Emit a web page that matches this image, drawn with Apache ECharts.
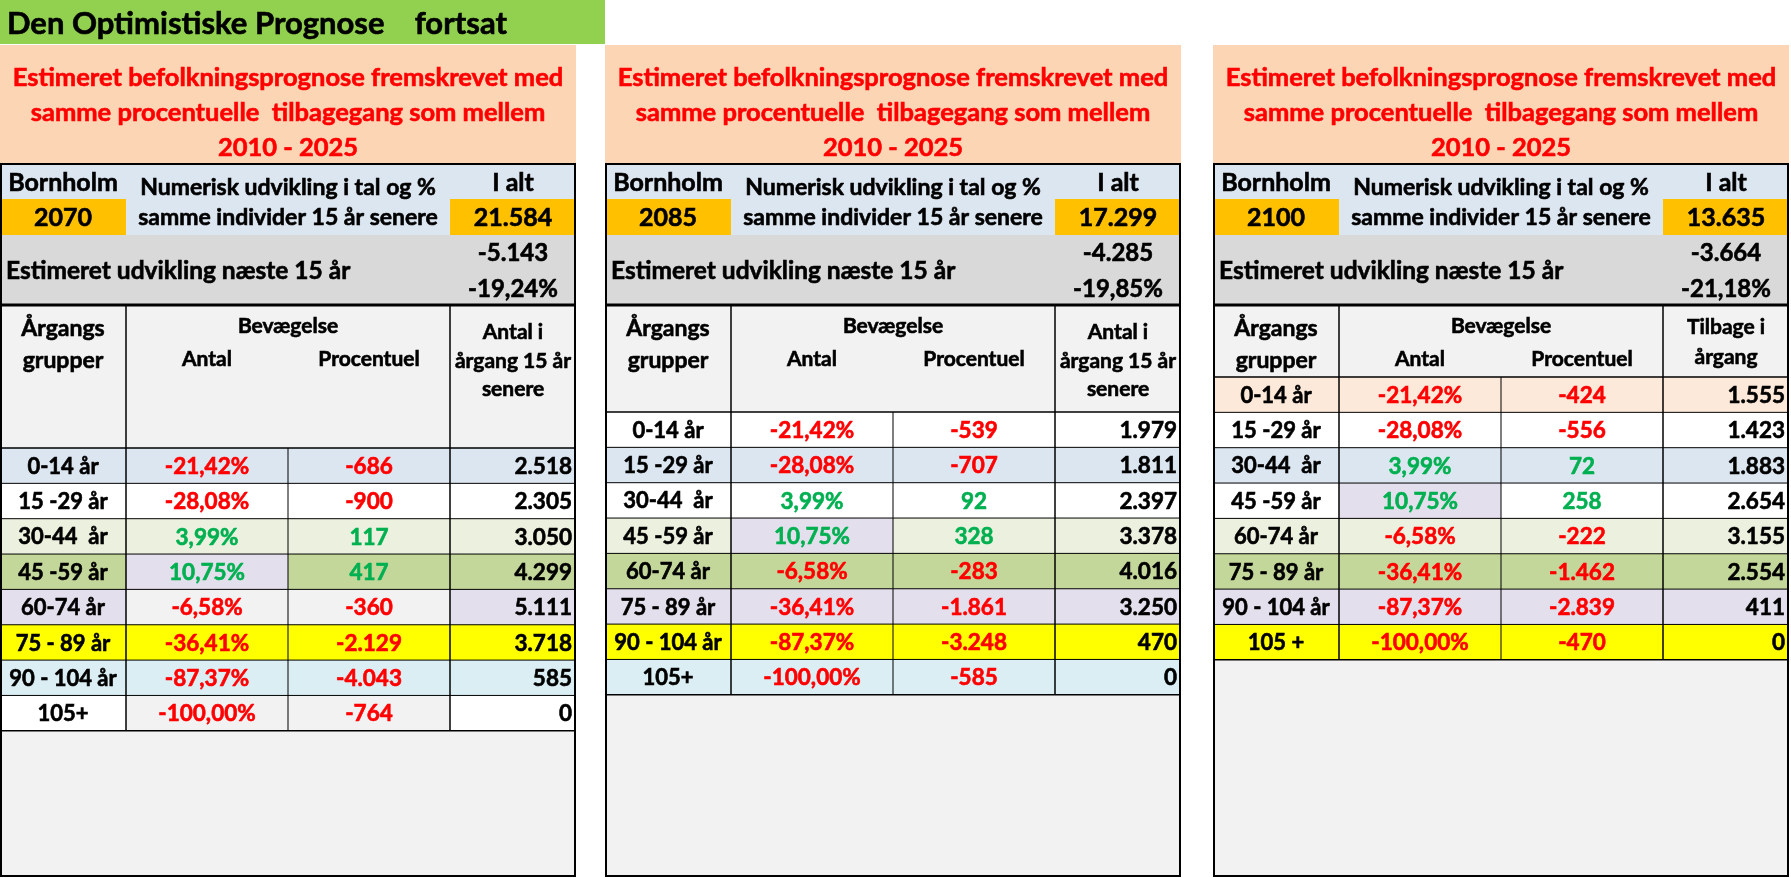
<!DOCTYPE html>
<html><head><meta charset="utf-8">
<script src="https://cdn.jsdelivr.net/npm/echarts@6/dist/echarts.min.js"></script>
<style>html,body{margin:0;padding:0;background:#fff}#c{width:1791px;height:878px}</style>
</head><body><div id="c"></div>
<script>
// ---------- DATA ----------
const pageTitle = 'Den Optimistiske Prognose    fortsat';
const headerLines = ['Estimeret befolkningsprognose fremskrevet med', 'samme procentuelle  tilbagegang som mellem', '2010 - 2025'];
const regionName = 'Bornholm';
const topMiddleLines = ['Numerisk udvikling i tal og %', 'samme individer 15 år senere'];
const totalLabel = 'I alt';
const changeLabel = 'Estimeret udvikling næste 15 år';
const years = [2070, 2085, 2100];
const totals = [21584, 17299, 13635];
const change15 = [-5143, -4285, -3664];
const changePct15 = [-19.24, -19.85, -21.18];
const groups2070 = ['0-14 år', '15 -29 år', '30-44  år', '45 -59 år', '60-74 år', '75 - 89 år', '90 - 104 år', '105+'];
const groups2085 = ['0-14 år', '15 -29 år', '30-44  år', '45 -59 år', '60-74 år', '75 - 89 år', '90 - 104 år', '105+'];
const groups2100 = ['0-14 år', '15 -29 år', '30-44  år', '45 -59 år', '60-74 år', '75 - 89 år', '90 - 104 år', '105 +'];
const movePct = [-21.42, -28.08, 3.99, 10.75, -6.58, -36.41, -87.37, -100.00];
const moveCount2070 = [-686, -900, 117, 417, -360, -2129, -4043, -764];
const moveCount2085 = [-539, -707, 92, 328, -283, -1861, -3248, -585];
const moveCount2100 = [-424, -556, 72, 258, -222, -1462, -2839, -470];
const after2070 = [2518, 2305, 3050, 4299, 5111, 3718, 585, 0];
const after2085 = [1979, 1811, 2397, 3378, 4016, 3250, 470, 0];
const after2100 = [1555, 1423, 1883, 2654, 3155, 2554, 411, 0];
const col1Header = ['Årgangs', 'grupper'];
const moveHeader = 'Bevægelse';
const moveSubHeaders = ['Antal', 'Procentuel'];
const lastColHeaders = [['Antal i', 'årgang 15 år', 'senere'], ['Antal i', 'årgang 15 år', 'senere'], ['Tilbage i', 'årgang']];

const panelsData = [
  { year: years[0], total: totals[0], ch: change15[0], chp: changePct15[0], groups: groups2070, count: moveCount2070, after: after2070, lastHdr: lastColHeaders[0] },
  { year: years[1], total: totals[1], ch: change15[1], chp: changePct15[1], groups: groups2085, count: moveCount2085, after: after2085, lastHdr: lastColHeaders[1] },
  { year: years[2], total: totals[2], ch: change15[2], chp: changePct15[2], groups: groups2100, count: moveCount2100, after: after2100, lastHdr: lastColHeaders[2] }
];

// ---------- STYLE / LAYOUT ----------
const W = 1791, H = 878;
const PANEL_X = [0, 605, 1213];
const PANEL_W = 576;
const COL = [0, 126, 288, 450, 576];
const Y = { titleBot: 44, peachTop: 45, peachBot: 163, r1: 163, r2: 199, gray: 235, hdrTop: 305, bottom: 876 };
const HDR_BOT = [448, 412, 377];
const ROW_H = 35.35;
const C = { blue: '#DCE6F1', white: '#FFFFFF', lgreen: '#EBF1DE', olive: '#C4D79B', lav: '#E4DFEC', grey: '#F2F2F2', yellow: '#FFFF00', cyan: '#DAEEF3', peach: '#FDE9D9' };
const rowFills = [
  [['blue'], ['white'], ['lgreen'], ['olive', 'lav', 'olive', 'olive'], ['lav', 'grey', 'grey', 'lav'], ['yellow'], ['cyan'], ['white', 'grey', 'grey', 'white']],
  [['white'], ['blue'], ['white'], ['lgreen', 'lav', 'lgreen', 'lgreen'], ['olive'], ['lav'], ['yellow'], ['cyan']],
  [['peach'], ['white'], ['blue'], ['white', 'lav', 'white', 'white'], ['lgreen'], ['olive'], ['lav'], ['yellow']]
];
const FF = 'Lato, "Open Sans", sans-serif';
const RED = '#FF0000', GREEN = '#00B050', BLACK = '#000000';

function fmtInt(n) {
  const s = Math.abs(n).toString().replace(/\B(?=(\d{3})+(?!\d))/g, '.');
  return (n < 0 ? '-' : '') + s;
}
function fmtPct(v) { return v.toFixed(2).replace('.', ',') + '%'; }

// ---------- BUILD ELEMENTS ----------
const els = [];
function rect(x0, y0, x1, y1, fill) { els.push({ k: 'rect', x0, y0, x1, y1, fill }); }
function line(x0, y0, x1, y1, w) { els.push({ k: 'line', x0, y0, x1, y1, w: w || 1 }); }
function text(x, y, t, opt) { els.push(Object.assign({ k: 'text', x, y, t, size: 22, color: BLACK, align: 'center' }, opt || {})); }

rect(0, 0, 605, Y.titleBot, '#92D050');
text(7, 24, pageTitle, { size: 31, align: 'left' });

panelsData.forEach((p, pi) => {
  const x = PANEL_X[pi];
  const cx = (a, b) => x + (COL[a] + COL[b]) / 2;
  // peach header
  rect(x, Y.peachTop, x + PANEL_W, Y.peachBot, '#FCD5B4');
  headerLines.forEach((l, i) => text(x + PANEL_W / 2, 78 + i * 35, l, { size: 25.5, color: RED }));
  // top block
  rect(x, Y.r1, x + PANEL_W, Y.r2, C.blue);
  rect(x, Y.r2, x + PANEL_W, Y.gray, C.blue);
  rect(x, Y.r2, x + COL[1], Y.gray, '#FFC000');
  rect(x + COL[3], Y.r2, x + PANEL_W, Y.gray, '#FFC000');
  rect(x, Y.gray, x + PANEL_W, Y.hdrTop, '#D9D9D9');
  text(cx(0, 1), 183, regionName, { size: 25 });
  text(cx(1, 3), 188, topMiddleLines[0], { size: 23 });
  text(cx(3, 4), 183, totalLabel, { size: 25 });
  text(cx(0, 1), 218, String(p.year), { size: 25 });
  text(cx(1, 3), 218, topMiddleLines[1], { size: 23 });
  text(cx(3, 4), 218, fmtInt(p.total), { size: 25 });
  text(cx(3, 4), 253, fmtInt(p.ch), { size: 24 });
  text(cx(3, 4), 289, fmtPct(p.chp), { size: 24 });
  text(x + 6, 271, changeLabel, { size: 24.5, align: 'left' });
  // header block
  const hb = HDR_BOT[pi];
  rect(x, Y.hdrTop, x + PANEL_W, hb, C.grey);
  text(cx(0, 1), 329, col1Header[0], { size: 23 });
  text(cx(0, 1), 361, col1Header[1], { size: 23 });
  text(cx(1, 3), 326, moveHeader, { size: 21 });
  text(cx(1, 2), 359, moveSubHeaders[0], { size: 21 });
  text(cx(2, 3), 359, moveSubHeaders[1], { size: 21 });
  const lh = p.lastHdr.length === 3 ? [332, 361, 389] : [327, 357];
  p.lastHdr.forEach((l, i) => text(cx(3, 4), lh[i], l, { size: 21 }));
  // data rows
  const n = p.groups.length;
  for (let r = 0; r < n; r++) {
    const y0 = hb + r * ROW_H, y1 = y0 + ROW_H, ym = (y0 + y1) / 2 + 1;
    const f = rowFills[pi][r];
    for (let c = 0; c < 4; c++) rect(x + COL[c], y0, x + COL[c + 1], y1, C[f[f.length === 1 ? 0 : c]]);
    text(cx(0, 1), ym, p.groups[r], { size: 22 });
    text(cx(1, 2), ym, fmtPct(movePct[r]), { size: 22.5, color: movePct[r] < 0 ? RED : GREEN });
    text(cx(2, 3), ym, fmtInt(p.count[r]), { size: 22.5, color: p.count[r] < 0 ? RED : GREEN });
    text(x + COL[4] - 4, ym, fmtInt(p.after[r]), { size: 22.5, align: 'right' });
  }
  const rowsEnd = hb + n * ROW_H;
  rect(x, rowsEnd, x + PANEL_W, Y.bottom, C.grey);
  // grid lines
  for (let r = 0; r < n; r++) line(x, hb + r * ROW_H, x + PANEL_W, hb + r * ROW_H, r === 0 ? 1.5 : 1);
  line(x, rowsEnd, x + PANEL_W, rowsEnd, 1.5);
  line(x + COL[1], Y.hdrTop, x + COL[1], rowsEnd, 1.5);
  line(x + COL[3], Y.hdrTop, x + COL[3], rowsEnd, 1.5);
  line(x + COL[2], hb, x + COL[2], rowsEnd, 1);
  line(x, Y.hdrTop, x + PANEL_W, Y.hdrTop, 3);
  // outer border
  line(x + 1, Y.r1, x + 1, Y.bottom, 2);
  line(x + PANEL_W - 1, Y.r1, x + PANEL_W - 1, Y.bottom, 2);
  line(x, Y.r1 + 1, x + PANEL_W, Y.r1 + 1, 2);
  line(x, Y.bottom, x + PANEL_W, Y.bottom, 2);
});

// ---------- CHART ----------
const chart = echarts.init(document.getElementById('c'), null, { renderer: 'canvas' });
chart.setOption({
  animation: false,
  backgroundColor: '#FFFFFF',
  grid: { left: 0, right: 0, top: 0, bottom: 0 },
  xAxis: { type: 'value', min: 0, max: W, show: false },
  yAxis: { type: 'value', min: 0, max: H, inverse: true, show: false },
  series: [{
    type: 'custom',
    coordinateSystem: 'cartesian2d',
    clip: false,
    silent: true,
    data: els.map((e, i) => [i, 0]),
    renderItem: function (params, api) {
      const e = els[api.value(0)];
      if (e.k === 'rect') {
        const a = api.coord([e.x0, e.y0]), b = api.coord([e.x1, e.y1]);
        return { type: 'rect', shape: { x: a[0], y: a[1], width: b[0] - a[0], height: b[1] - a[1] }, style: { fill: e.fill } };
      }
      if (e.k === 'line') {
        const a = api.coord([e.x0, e.y0]), b = api.coord([e.x1, e.y1]);
        return { type: 'line', shape: { x1: a[0], y1: a[1], x2: b[0], y2: b[1] }, style: { stroke: '#000', lineWidth: e.w } };
      }
      const a = api.coord([e.x, e.y]);
      return { type: 'text', x: a[0], y: a[1], style: { text: e.t, fill: e.color, stroke: e.color, lineWidth: 0.6, font: 'bold ' + e.size + 'px ' + FF, align: e.align, verticalAlign: 'middle' } };
    }
  }]
});
</script></body></html>
